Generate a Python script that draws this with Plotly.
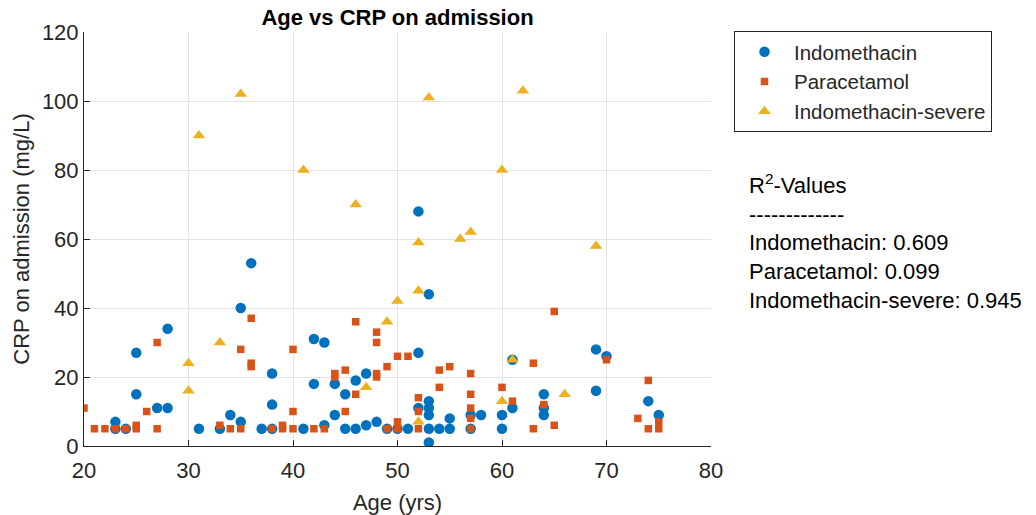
import plotly.graph_objects as go

# ---- data ----
indo_age = [23, 23, 24, 25, 25, 27, 28, 28, 31, 33, 34, 35, 35, 36, 37, 38, 38, 38, 41, 42, 42, 43, 43,
            44, 44, 45, 45, 46, 46, 47, 47, 48, 49, 50, 51, 52, 52, 52, 53, 53, 53, 53, 53, 53, 54, 55,
            55, 57, 57, 58, 60, 60, 61, 61, 64, 64, 64, 69, 69, 70, 74, 75]
indo_crp = [5, 7, 5, 15, 27, 11, 11, 34, 5, 5, 9, 7, 40, 53, 5, 5, 12, 21, 5, 18, 31, 30, 6,
            18, 9, 15, 5, 19, 5, 21, 6, 7, 5, 5, 5, 27, 68, 11, 13, 11, 9, 5, 1, 44, 5, 8,
            5, 9, 5, 9, 9, 5, 11, 25, 15, 11, 9, 28, 16, 26, 13, 9]

para_age = [20, 21, 22, 23, 24, 25, 25, 26, 27, 27, 33, 34, 35, 35, 36, 36, 36, 38, 39, 39, 40, 40, 40,
            42, 43, 44, 44, 45, 45, 46, 46, 48, 48, 48, 48, 49, 49, 50, 50, 50, 51, 52, 52, 52, 54, 54,
            55, 57, 57, 57, 57, 57, 60, 61, 63, 63, 64, 65, 65, 70, 73, 74, 74, 75, 75]
para_crp = [11, 5, 5, 5, 5, 5, 6, 10, 5, 30, 6, 5, 5, 28, 37, 24, 23, 5, 6, 5, 28, 10, 5,
            5, 5, 21, 20, 22, 10, 36, 15, 33, 30, 21, 20, 23, 5, 26, 7, 5, 26, 14, 10, 5, 22, 17,
            23, 21, 15, 11, 8, 5, 17, 13, 24, 5, 12, 39, 6, 25, 8, 19, 5, 7, 5]

sev_age = [30, 30, 31, 33, 35, 41, 46, 47, 49, 50, 52, 52, 52, 53, 56, 57, 60, 60, 61, 62, 66, 69]
sev_crp = [24, 16, 90, 30, 102, 80, 70, 17, 36, 42, 59, 45, 7, 101, 60, 62, 80, 13, 25, 103, 15, 58]

r2_names = ["Indomethacin", "Paracetamol", "Indomethacin-severe"]
r2_values = ["0.609", "0.099", "0.945"]

x_ticks = [20, 30, 40, 50, 60, 70, 80]
y_ticks = [0, 20, 40, 60, 80, 100, 120]

FONT = "Liberation Sans, Arial, Helvetica, sans-serif"
TXT = "#262626"

fig = go.Figure()
fig.add_trace(go.Scatter(x=indo_age, y=indo_crp, mode="markers", name="Indomethacin",
                         marker=dict(symbol="circle", size=10.5, color="#0072BD", line=dict(width=0))))
fig.add_trace(go.Scatter(x=para_age, y=para_crp, mode="markers", name="Paracetamol",
                         marker=dict(symbol="square", size=7.5, color="#D95319", line=dict(width=0))))
fig.add_trace(go.Scatter(x=sev_age, y=sev_crp, mode="markers", name="Indomethacin-severe",
                         marker=dict(symbol="triangle-up", size=11, color="#EDB120", line=dict(width=0))))

r2_text = "R<sup>2</sup>-Values<br>-------------<br>" + "<br>".join(
    f"{n}: {v}" for n, v in zip(r2_names, r2_values))

fig.update_layout(
    width=1036, height=515,
    margin=dict(l=84, r=325, t=32, b=69, autoexpand=False),
    paper_bgcolor="white", plot_bgcolor="white",
    font=dict(family=FONT, size=22, color=TXT),
    title=dict(text="<b>Age vs CRP on admission</b>", x=(84 + 711) / 2 / 1036, xanchor="center",
               y=1 - 17 / 515, yanchor="middle", yref="container",
               font=dict(family=FONT, size=22, color="black")),
    showlegend=True,
    legend=dict(x=(734 - 84) / 627, y=(446 - 31) / 414, xanchor="left", yanchor="top",
                bordercolor=TXT, borderwidth=1, bgcolor="white",
                font=dict(family=FONT, size=20.5, color=TXT), itemwidth=49),
    annotations=[dict(text=r2_text, xref="paper", yref="paper",
                      x=(747 - 84) / 627, y=(446 - 168) / 414, xanchor="left", yanchor="top",
                      align="left", showarrow=False, font=dict(family=FONT, size=22, color="black"))],
)
fig.update_xaxes(range=[20, 80], tickvals=x_ticks, showgrid=True, gridcolor="#e3e3e3", gridwidth=1,
                 showline=True, linecolor=TXT, linewidth=1, ticks="inside", ticklen=6, tickcolor=TXT,
                 zeroline=False, tickfont=dict(size=22, color=TXT), ticklabelstandoff=5,
                 automargin=False,
                 title=dict(text="Age (yrs)", font=dict(size=22, color=TXT), standoff=12))
fig.update_yaxes(range=[0, 120], tickvals=y_ticks, showgrid=True, gridcolor="#e3e3e3", gridwidth=1,
                 showline=True, linecolor=TXT, linewidth=1, ticks="inside", ticklen=6, tickcolor=TXT,
                 zeroline=False, tickfont=dict(size=22, color=TXT), automargin=False,
                 title=dict(text="CRP on admission (mg/L)", font=dict(size=22, color=TXT), standoff=6))

fig.write_html("out.html", config={"displayModeBar": False},
               post_script="document.body.style.margin='0';")
